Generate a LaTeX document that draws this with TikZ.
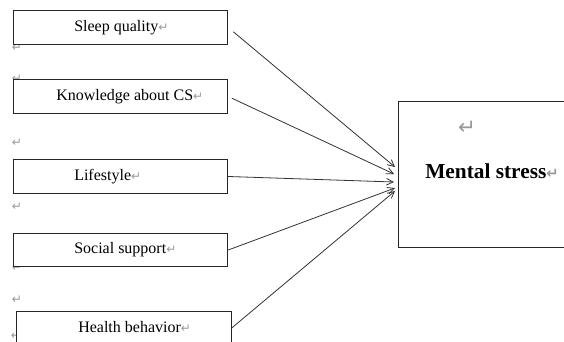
\documentclass[tikz,border=0pt]{standalone}
\usepackage{fontspec}
\setmainfont{Liberation Serif}
\newfontfamily\markfont{DejaVu Sans}
\usepackage{tikz}
\usetikzlibrary{arrows.meta,calc}

\tikzset{
  factor/.style={draw=black!85, fill=white, line width=0.6pt, minimum width=161pt, minimum height=25pt, inner sep=0pt},
  factortext/.style={anchor=west, inner sep=0pt, font=\fontsize{12}{12}\selectfont},
  pmark/.style={inner sep=0pt, text=black!40, font=\markfont\fontsize{9}{9}\selectfont},
  link/.style={draw=black!80, line width=0.6pt, -{Straight Barb[length=5pt,width=5pt]}}
}
\newcommand{\parmark}{{\markfont\color{black!40}\fontsize{9}{9}\selectfont ↵}}

\begin{document}
\begin{tikzpicture}[x=0.75pt, y=-0.75pt]
  \clip (0,0) rectangle (564,342);
  \fill[white] (0,0) rectangle (564,342);
  % stray paragraph marks on the left
  \node[pmark] (m1) at (17,48) {↵};
  \node[pmark] (m2) at (17,79) {↵};
  \node[pmark] (m3) at (17,143) {↵};
  \node[pmark] (m4) at (17,207) {↵};
  \node[pmark] (m5) at (17,268) {↵};
  \node[pmark] (m6) at (17,300) {↵};
  \node[pmark] (m7) at (16,336) {↵};
  % factors
  \node[factor] (sleep) at (120.5,27.5) {};
  \node[factor] (know) at (120.5,96.5) {};
  \node[factor] (life) at (120.5,176.5) {};
  \node[factor] (social) at (120.5,250) {};
  \node[factor] (health) at (124,328) {};
  \node[factortext] (sleeptxt) at (74,28) {Sleep quality\parmark};
  \node[factortext] (knowtxt) at (56,97) {Knowledge about CS\parmark};
  \node[factortext] (lifetxt) at (74,177) {Lifestyle\parmark};
  \node[factortext] (socialtxt) at (74,250) {Social support\parmark};
  \node[factortext] (healthtxt) at (78,327) {Health behavior\parmark};
  % outcome
  \node[factor, minimum width=136pt, minimum height=109.5pt] (stress) at (489.5,174) {};
  \node[anchor=center, inner sep=0pt, font=\bfseries\fontsize{16}{16}\selectfont] (stresstxt) at (492,171) {Mental stress{\markfont\color{black!40}\fontsize{11}{11}\selectfont ↵}};
  \node[pmark, font=\markfont\fontsize{16}{16}\selectfont] (m8) at (467,128) {↵};
  % arrow heads
  \coordinate (in1) at (395,167);
  \coordinate (in2) at (394,174);
  \coordinate (in3) at (394,182);
  \coordinate (in4) at (395,188);
  \coordinate (in5) at (395,191);
  \draw[link, shorten <=5pt] (sleep.east) -- (in1);
  \draw[link, shorten <=3pt] (know.east) -- (in2);
  \draw[link] (life.east) -- (in3);
  \draw[link] (social.east) -- (in4);
  \draw[link] (health.east) -- (in5);
\end{tikzpicture}
\end{document}
